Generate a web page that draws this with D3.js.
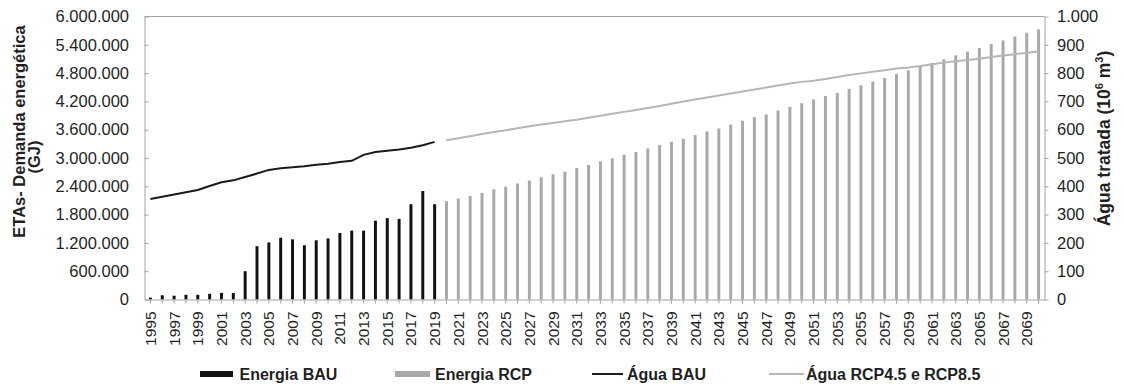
<!DOCTYPE html>
<html>
<head>
<meta charset="utf-8">
<script src="https://cdn.jsdelivr.net/npm/d3@7"></script>
<style>
  body { margin: 0; background: #fff; }
  text { font-family: "Liberation Sans", Arial, sans-serif; fill: #1f1f1f; }
</style>
</head>
<body>
<div id="visualization"></div>
<script>
// Categories (years)
var years = [1995, 1996, 1997, 1998, 1999, 2000, 2001, 2002, 2003, 2004, 2005, 2006, 2007, 2008, 2009,
             2010, 2011, 2012, 2013, 2014, 2015, 2016, 2017, 2018, 2019, 2020, 2021, 2022, 2023, 2024,
             2025, 2026, 2027, 2028, 2029, 2030, 2031, 2032, 2033, 2034, 2035, 2036, 2037, 2038, 2039,
             2040, 2041, 2042, 2043, 2044, 2045, 2046, 2047, 2048, 2049, 2050, 2051, 2052, 2053, 2054,
             2055, 2056, 2057, 2058, 2059, 2060, 2061, 2062, 2063, 2064, 2065, 2066, 2067, 2068, 2069, 2070];

// Energy demand (GJ), 1995-2019 observed, 2020-2070 projected
var energiaBAU = [40000, 90000, 80000, 100000, 100000, 120000, 140000, 140000, 600000, 1130000,
                  1210000, 1310000, 1275000, 1150000, 1255000, 1295000, 1410000, 1460000, 1460000, 1670000,
                  1725000, 1710000, 2020000, 2300000, 2020000];
var energiaRCP = [2085000, 2140000, 2197000, 2261000, 2338000, 2394000, 2458000, 2521000, 2592000, 2655000,
                  2711000, 2789000, 2852000, 2930000, 2993000, 3070000, 3127000, 3204000, 3275000, 3345000,
                  3408000, 3486000, 3563000, 3627000, 3707000, 3789000, 3866000, 3923000, 4007000, 4084000,
                  4162000, 4240000, 4317000, 4380000, 4465000, 4542000, 4620000, 4697000, 4782000, 4859000,
                  4951000, 5014000, 5092000, 5176000, 5254000, 5331000, 5416000, 5493000, 5577000, 5655000,
                  5725000];

// Treated water (10^6 m3)
var aguaBAU = [355, 363, 371, 379, 387, 401, 414, 421, 433, 445, 458, 464, 467, 471, 476,
               480, 486, 490, 511, 521, 526, 530, 536, 545, 557];
var aguaRCP = [563, 570, 577, 585, 592, 598, 605, 612, 618, 624, 630, 635, 642, 649, 656,
               663, 670, 677, 684, 692, 700, 707, 714, 721, 728, 735, 742, 749, 756, 763,
               769, 773, 779, 786, 793, 799, 805, 810, 816, 820, 825, 831, 837, 842, 846,
               851, 857, 862, 867, 872, 876];

var leftTicks  = [0, 600000, 1200000, 1800000, 2400000, 3000000, 3600000, 4200000, 4800000, 5400000, 6000000];
var rightTicks = [0, 100, 200, 300, 400, 500, 600, 700, 800, 900, 1000];
var yearLabels = years.filter(function (d, i) { return i % 2 === 0; });
var legendLabels = ["Energia BAU", "Energia RCP", "Água BAU", "Água RCP4.5 e RCP8.5"];

var fmt = d3.formatLocale({decimal: ",", thousands: ".", grouping: [3], currency: ["", ""]}).format(",d");

ChartVisualization = function (container) {
    this.d3 = d3.select(container);

    this.width  = 1124;
    this.height = 390;
    this.margin = {top: 16.5, right: 79.5, bottom: 90.5, left: 144.5};
    this.svg;
    this.vis = {base: "", width: "", height: ""};

    this.axisColor = "#a3a3a3";
    this.black = "#111111";
    this.grayBar = "#a9a9a9";
    this.grayLine = "#b6b6b6";

    this.createBase();
    this.createScales();
    this.createBars();
    this.createLines();
    this.createAxes();
    this.createYearLabels();
    this.createTitles();
    this.createLegend();
}

ChartVisualization.prototype.createBase = function () {
    this.svg = this.d3.append("svg")
                      .attr("width", this.width)
                      .attr("height", this.height)
                      .style("background", "#fff");
    this.vis.width  = this.width - this.margin.left - this.margin.right;
    this.vis.height = this.height - this.margin.top - this.margin.bottom;
    this.vis.base = this.svg.append("g")
                   .attr("transform", "translate(" + this.margin.left + "," + this.margin.top + ")");
}

ChartVisualization.prototype.createScales = function () {
    this.x = d3.scaleBand().domain(years).range([0, this.vis.width])
               .paddingInner(0.75).paddingOuter(0.375);
    this.yL = d3.scaleLinear().domain([0, 6000000]).range([this.vis.height, 0]);
    this.yR = d3.scaleLinear().domain([0, 1000]).range([this.vis.height, 0]);
}

ChartVisualization.prototype.createBars = function () {
    var x = this.x, yL = this.yL, n = energiaBAU.length;
    var bau = energiaBAU.map(function (v, i) { return {year: years[i], value: v}; });
    var rcp = energiaRCP.map(function (v, i) { return {year: years[i + n], value: v}; });

    [[bau, this.black], [rcp, this.grayBar]].forEach(function (s) {
        this.vis.base.append("g").selectAll("rect")
            .data(s[0]).enter().append("rect")
            .attr("x", function (d) { return x(d.year); })
            .attr("width", x.bandwidth())
            .attr("y", function (d) { return yL(d.value); })
            .attr("height", function (d) { return yL(0) - yL(d.value); })
            .attr("fill", s[1]);
    }, this);
}

ChartVisualization.prototype.createLines = function () {
    var x = this.x, yR = this.yR, n = aguaBAU.length;
    var line = d3.line()
        .x(function (d) { return x(d.year) + x.bandwidth() / 2; })
        .y(function (d) { return yR(d.value); });

    var bau = aguaBAU.map(function (v, i) { return {year: years[i], value: v}; });
    var rcp = aguaRCP.map(function (v, i) { return {year: years[i + n], value: v}; });

    this.vis.base.append("path").datum(bau)
        .attr("d", line).attr("fill", "none")
        .attr("stroke", "#1a1a1a").attr("stroke-width", 2);
    this.vis.base.append("path").datum(rcp)
        .attr("d", line).attr("fill", "none")
        .attr("stroke", this.grayLine).attr("stroke-width", 2);
}

ChartVisualization.prototype.createAxes = function () {
    var c = this.axisColor, x = this.x, h = this.vis.height;

    // Top frame line
    this.vis.base.append("line")
        .attr("x1", 0).attr("x2", this.vis.width)
        .attr("y1", 0).attr("y2", 0)
        .attr("stroke", c);

    // Axis X (ticks only, labels drawn separately)
    var ax = this.vis.base.append("g")
        .attr("transform", "translate(0," + h + ")")
        .call(d3.axisBottom(x).tickSize(4).tickSizeOuter(0).tickFormat(""));

    // Axis Y left
    var al = this.vis.base.append("g")
        .call(d3.axisLeft(this.yL).tickValues(leftTicks).tickSize(-4).tickSizeOuter(0)
              .tickPadding(15.5).tickFormat(fmt));

    // Axis Y right
    var ar = this.vis.base.append("g")
        .attr("transform", "translate(" + this.vis.width + ",0)")
        .call(d3.axisRight(this.yR).tickValues(rightTicks).tickSize(4).tickSizeOuter(0)
              .tickPadding(8.5).tickFormat(fmt));

    [ax, al, ar].forEach(function (a) {
        a.select(".domain").attr("stroke", c);
        a.selectAll(".tick line").attr("stroke", c);
        a.selectAll("text").attr("fill", "#1f1f1f")
         .style("font-family", "'Liberation Sans', Arial, sans-serif")
         .style("font-size", "16.5px");
    });
}

// Year labels, vertical (reading bottom to top)
ChartVisualization.prototype.createYearLabels = function () {
    var x = this.x, m = this.margin, top = m.top + this.vis.height + 12;
    var g = this.svg.append("g").attr("class", "year-labels");
    yearLabels.forEach(function (d) {
        var cx = m.left + x(d) + x.bandwidth() / 2;
        g.append("g")
         .attr("transform", "translate(" + cx + "," + top + ")")
         .append("text")
         .attr("transform", "rotate(-90)")
         .attr("text-anchor", "end")
         .attr("font-size", 15.5)
         .attr("dy", 5.5)
         .text(d);
    });
}

ChartVisualization.prototype.createTitles = function () {
    this.svg.append("text")
        .attr("transform", "translate(25,131.5) rotate(-90)")
        .attr("text-anchor", "middle")
        .style("font-size", "16.5px").style("font-weight", "bold")
        .text("ETAs- Demanda energética");
    this.svg.append("text")
        .attr("transform", "translate(40,157) rotate(-90)")
        .attr("text-anchor", "middle")
        .style("font-size", "16.5px").style("font-weight", "bold")
        .text("(GJ)");

    var t = this.svg.append("text")
        .attr("transform", "translate(1110,138.5) rotate(-90)")
        .attr("text-anchor", "middle")
        .style("font-size", "17.5px").style("font-weight", "bold");
    t.append("tspan").text("Água tratada (10");
    t.append("tspan").attr("dy", -7).style("font-size", "11px").text("6");
    t.append("tspan").attr("dy", 7).text(" m");
    t.append("tspan").attr("dy", -7).style("font-size", "11px").text("3");
    t.append("tspan").attr("dy", 7).text(")");
}

ChartVisualization.prototype.createLegend = function () {
    var items = [
        {label: legendLabels[0], type: "rect", color: this.black,    x: 200, w: 33, tx: 239.5},
        {label: legendLabels[1], type: "rect", color: this.grayBar,  x: 395, w: 35, tx: 435},
        {label: legendLabels[2], type: "line", color: "#1a1a1a",     x: 592, w: 31, tx: 627},
        {label: legendLabels[3], type: "line", color: this.grayLine, x: 769, w: 35, tx: 806}
    ];
    var g = this.svg.append("g");
    items.forEach(function (d) {
        if (d.type === "rect") {
            g.append("rect").attr("x", d.x).attr("y", 371).attr("width", d.w).attr("height", 6)
             .attr("fill", d.color);
        } else {
            g.append("line").attr("x1", d.x).attr("x2", d.x + d.w).attr("y1", 374).attr("y2", 374)
             .attr("stroke", d.color).attr("stroke-width", 2);
        }
        g.append("text").attr("x", d.tx).attr("y", 374).attr("dy", "0.35em")
         .style("font-size", "16px").style("font-weight", "bold")
         .text(d.label);
    });
}

new ChartVisualization("#visualization");
</script>
</body>
</html>
